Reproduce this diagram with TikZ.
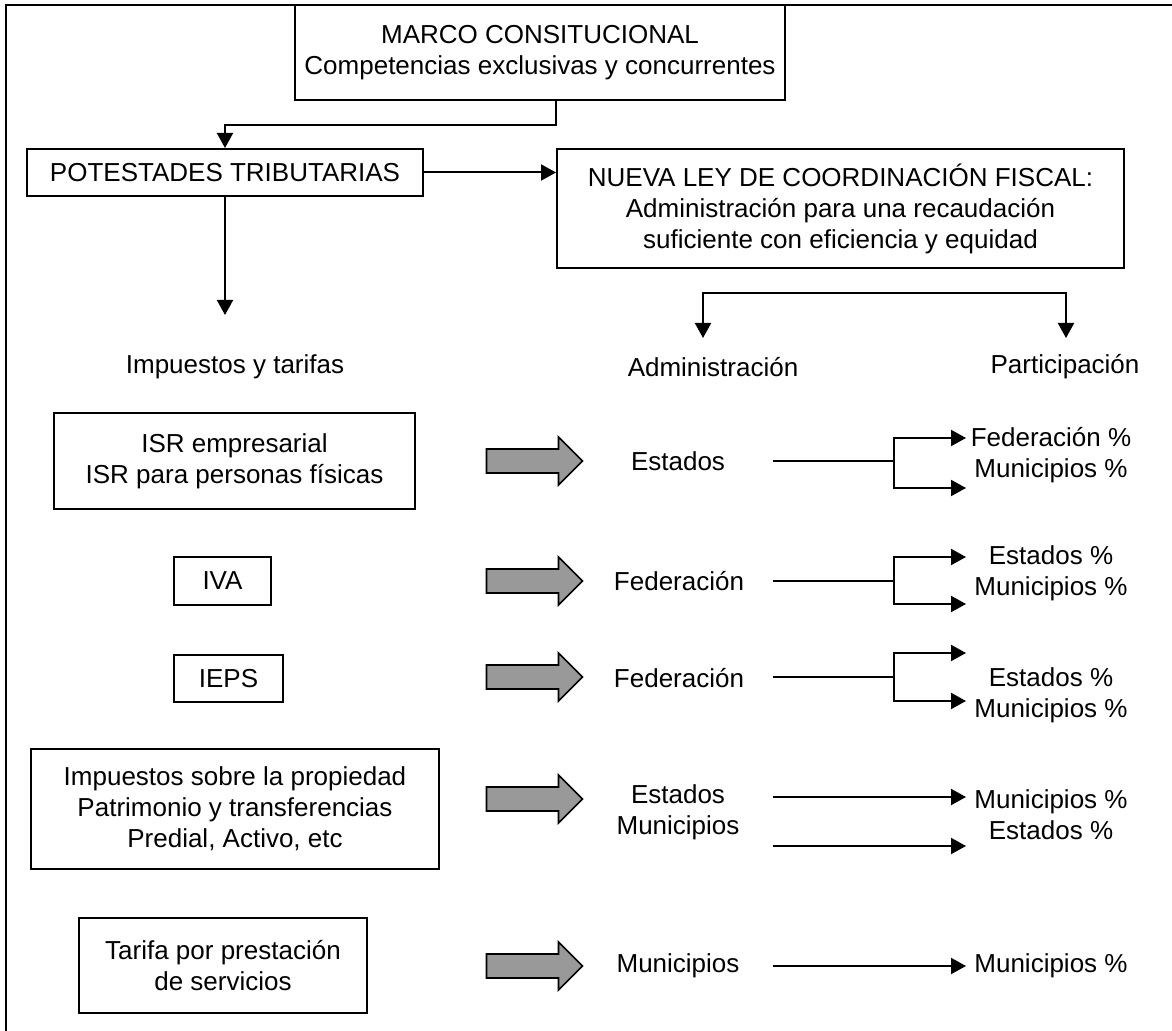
\documentclass[tikz,border=0pt]{standalone}
\usepackage{fontspec}
\setmainfont{Liberation Sans}
\usetikzlibrary{arrows.meta}
\definecolor{ShaftGray}{HTML}{999999}

\begin{document}
\begin{tikzpicture}[
  x=0.5pt, y=-0.5pt,
  every node/.style={font=\fontsize{13}{15.5}\selectfont, align=center, inner sep=0pt},
  box/.style={draw, line width=1pt},
  >={Triangle[length=7.5pt, width=8pt]},
  arr/.style={->, line width=1pt},
  ln/.style={line width=0.9pt},
  bigarrow/.pic={\draw[fill=ShaftGray, line width=0.8pt]
      (-48,-12) -- (24,-12) -- (24,-24) -- (48,0) -- (24,24) -- (24,12) -- (-48,12) -- cycle;},
]

%% ── Frame ────────────────────────────────────
\useasboundingbox (0,0) rectangle (1172,1031);
\draw[line width=1.2pt] (6,1031) -- (6,5) -- (1172,5);

%% ── Top boxes ────────────────────────────────
\node[box, minimum width=245pt, minimum height=47.5pt] at (540,52.5) (marco)
    {MARCO CONSITUCIONAL\\Competencias exclusivas y concurrentes};
\node[box, minimum width=198pt, minimum height=23.5pt] at (225,172.5) (potest)
    {POTESTADES TRIBUTARIAS};
\node[box, minimum width=283.5pt, minimum height=59.5pt] at (840.5,208.5) (nueva)
    {NUEVA LEY DE COORDINACIÓN FISCAL:\\Administración para una recaudación\\suficiente con eficiencia y equidad};

%% ── Column heads ─────────────────────────────
\node at (235,367)  (imp)  {Impuestos y tarifas};
\node at (713,367)  (adm)  {Administración};
\node at (1065,367) (part) {Participación};

%% ── Tax boxes ────────────────────────────────
\node[box, minimum width=180.5pt, minimum height=48pt] at (234.5,461) (isr)
    {ISR empresarial\\ISR para personas físicas};
\node[box, minimum width=48.5pt, minimum height=24pt] at (222.5,581) (iva) {IVA};
\node[box, minimum width=54.5pt, minimum height=23.5pt] at (228.5,678.5) (ieps) {IEPS};
\node[box, minimum width=204pt, minimum height=60pt] at (235,809) (prop)
    {Impuestos sobre la propiedad\\Patrimonio y transferencias\\Predial, Activo, etc};
\node[box, minimum width=144pt, minimum height=47.5pt] at (223,965.5) (tarifa)
    {Tarifa por prestación\\de servicios};

%% ── Block arrows ─────────────────────────────
\pic at (534.5,461) {bigarrow};
\pic at (534.5,581) {bigarrow};
\pic at (534.5,677) {bigarrow};
\pic at (534.5,799) {bigarrow};
\pic at (534.5,966) {bigarrow};

%% ── Administración column ────────────────────
\node at (678,461) (est1)   {Estados};
\node at (679,581) (fed2)   {Federación};
\node at (679,678) (fed3)   {Federación};
\node at (678,812) (estmun) {Estados\\Municipios};
\node at (678,966) (mun5)   {Municipios};

%% ── Participación column ─────────────────────
\node at (1051,455)   (par1) {Federación \%\\Municipios \%};
\node at (1051,573.5) (par2) {Estados \%\\Municipios \%};
\node at (1051,695)   (par3) {Estados \%\\Municipios \%};
\node at (1051,815)   (par4) {Municipios \%\\Estados \%};
\node at (1051,966)   (par5) {Municipios \%};

%% ── Connector points ─────────────────────────
\coordinate (impin)  at (225,315);
\coordinate (brl)    at (703,293);
\coordinate (brr)    at (1066,293);
\coordinate (admin)  at (703,338);
\coordinate (partin) at (1066,338);
\coordinate (s1) at (773,461); \coordinate (j1) at (894,461);
\coordinate (t1a) at (966,438); \coordinate (t1b) at (966,488);
\coordinate (s2) at (773,581); \coordinate (j2) at (894,581);
\coordinate (t2a) at (966,557); \coordinate (t2b) at (966,604);
\coordinate (s3) at (773,677); \coordinate (j3) at (894,677);
\coordinate (t3a) at (966,653); \coordinate (t3b) at (966,701);
\coordinate (s4a) at (773,797); \coordinate (t4a) at (966,797);
\coordinate (s4b) at (773,846); \coordinate (t4b) at (966,846);
\coordinate (s5) at (773,966);  \coordinate (t5) at (966,966);

%% ── Arrows top ───────────────────────────────
\draw[arr] (marco.south -| nueva.west) -- ++(0,24) -| (potest.north);
\draw[arr] (potest.east) -- (potest.east -| nueva.west);
\draw[arr] (potest.south) -- (impin);
\draw[arr, <->] (admin) -- (brl) -- (brr) -- (partin);

%% ── Arrows to Participación ──────────────────
\draw[ln] (s1) -- (j1);
\draw[arr] (j1) |- (t1a);
\draw[arr] (j1) |- (t1b);
\draw[ln] (s2) -- (j2);
\draw[arr] (j2) |- (t2a);
\draw[arr] (j2) |- (t2b);
\draw[ln] (s3) -- (j3);
\draw[arr] (j3) |- (t3a);
\draw[arr] (j3) |- (t3b);
\draw[arr] (s4a) -- (t4a);
\draw[arr] (s4b) -- (t4b);
\draw[arr] (s5) -- (t5);

\end{tikzpicture}
\end{document}
